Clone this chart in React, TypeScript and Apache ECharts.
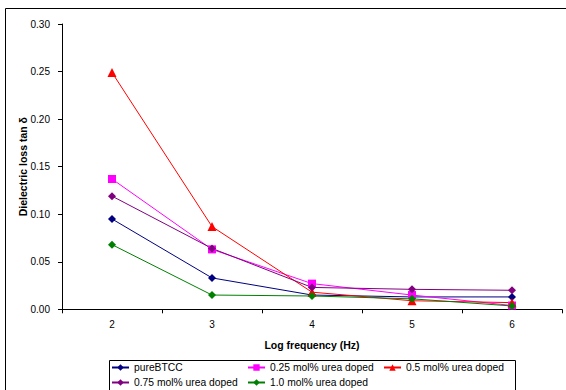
import React, { useEffect, useRef } from "react";
import * as echarts from "echarts";

const categories = ["2", "3", "4", "5", "6"];
const seriesNames = [
  "pureBTCC",
  "0.25 mol% urea doped",
  "0.5 mol% urea doped",
  "0.75 mol% urea doped",
  "1.0 mol% urea doped",
];
const pureBTCC = [0.095, 0.033, 0.015, 0.013, 0.013];
const urea025 = [0.137, 0.063, 0.027, 0.015, 0.004];
const urea05 = [0.249, 0.087, 0.018, 0.009, 0.007];
const urea075 = [0.119, 0.064, 0.023, 0.021, 0.02];
const urea10 = [0.068, 0.015, 0.014, 0.011, 0.0035];
const seriesData = [pureBTCC, urea025, urea05, urea075, urea10];
const colors = ["#000080", "#FF00FF", "#FF0000", "#800080", "#008000"];
const symbols = ["diamond", "rect", "triangle", "diamond", "diamond"];
const symbolSizes = [8, 8, 9, 8, 8];

const FONT = "'Liberation Sans', Arial, sans-serif";

export default function App() {
  const ref = useRef<HTMLDivElement>(null);
  useEffect(() => {
    if (!ref.current) return;
    const chart = echarts.init(ref.current, undefined, { renderer: "svg" });
    chart.setOption({
      animation: false,
      backgroundColor: "#ffffff",
      textStyle: { fontFamily: FONT, color: "#000" },
      graphic: [
        {
          type: "rect",
          shape: { x: 5.5, y: 8.5, width: 700, height: 500 },
          style: { fill: "none", stroke: "#000", lineWidth: 1 },
          silent: true,
        },
        {
          type: "rect",
          shape: { x: 109.5, y: 360.5, width: 406, height: 40 },
          style: { fill: "none", stroke: "#000", lineWidth: 1 },
          silent: true,
        },
      ],
      grid: { left: 62, right: 4, top: 24, bottom: 80.7 },
      xAxis: {
        type: "category",
        data: categories,
        boundaryGap: true,
        name: "Log frequency (Hz)",
        nameLocation: "middle",
        nameGap: 30,
        nameMoveOverlap: false,
        nameTextStyle: { fontFamily: FONT, fontWeight: "bold", fontSize: 10.5, color: "#000" },
        axisLine: { lineStyle: { color: "#000", width: 1 } },
        axisTick: { show: true, alignWithLabel: false, length: 4, lineStyle: { color: "#000" } },
        axisLabel: { fontFamily: FONT, fontSize: 10, color: "#000", margin: 10 },
        splitLine: { show: false },
      },
      yAxis: {
        type: "value",
        min: 0,
        max: 0.3,
        interval: 0.05,
        name: "Dielectric loss tan δ",
        nameLocation: "middle",
        nameGap: 34,
        nameMoveOverlap: false,
        nameTextStyle: { fontFamily: FONT, fontWeight: "bold", fontSize: 10.5, color: "#000" },
        axisLine: { show: true, lineStyle: { color: "#000", width: 1 } },
        axisTick: { show: true, length: 4, lineStyle: { color: "#000" } },
        axisLabel: {
          fontFamily: FONT,
          fontSize: 10,
          color: "#000",
          margin: 12,
          formatter: (v: number) => v.toFixed(2),
        },
        splitLine: { show: false },
      },
      legend: {
        data: seriesNames,
        left: 108,
        top: 360,
        width: 410,
        orient: "horizontal",
        padding: [0, 0, 0, 3],
        itemGap: 0,
        itemWidth: 17,
        itemHeight: 8,
        textStyle: { fontFamily: FONT, fontSize: 10.3, color: "#000", width: 113, lineHeight: 15 },
      },
      series: seriesNames.map((name, i) => ({
        name,
        type: "line",
        data: seriesData[i],
        symbol: symbols[i],
        symbolSize: symbolSizes[i],
        showSymbol: true,
        lineStyle: { color: colors[i], width: 1 },
        itemStyle: { color: colors[i] },
        emphasis: { disabled: true },
      })),
    });
    return () => chart.dispose();
  }, []);
  return (
    <div
      ref={ref}
      style={{ position: "fixed", left: 0, top: 0, width: 566, height: 390 }}
    />
  );
}
